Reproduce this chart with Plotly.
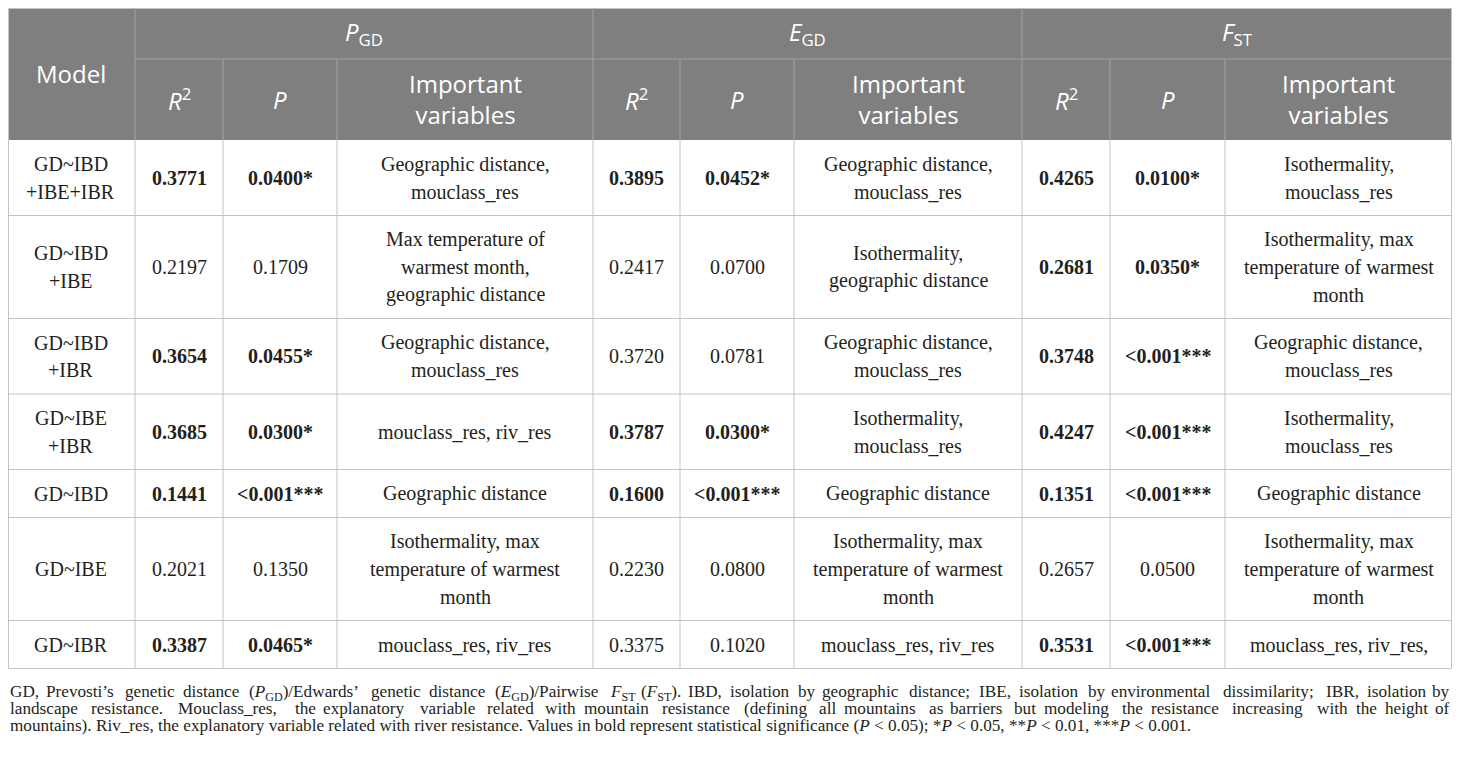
"""Mantel / MRM model table — P_GD, E_GD and F_ST fits per model, drawn as a Plotly figure."""

import re

import plotly.graph_objects as go

# ---- data --------------------------------------------------------------

MODELS = ["GD~IBD<br>+IBE+IBR", "GD~IBD<br>+IBE", "GD~IBD<br>+IBR", "GD~IBE<br>+IBR",
          "GD~IBD", "GD~IBE", "GD~IBR"]

PGD_R2 = ["0.3771", "0.2197", "0.3654", "0.3685", "0.1441", "0.2021", "0.3387"]
PGD_P = ["0.0400*", "0.1709", "0.0455*", "0.0300*", "<0.001***", "0.1350", "0.0465*"]
PGD_VARS = ["Geographic distance,<br>mouclass_res",
            "Max temperature of<br>warmest month,<br>geographic distance",
            "Geographic distance,<br>mouclass_res",
            "mouclass_res, riv_res",
            "Geographic distance",
            "Isothermality, max<br>temperature of warmest<br>month",
            "mouclass_res, riv_res"]
PGD_SIG = [True, False, True, True, True, False, True]

EGD_R2 = ["0.3895", "0.2417", "0.3720", "0.3787", "0.1600", "0.2230", "0.3375"]
EGD_P = ["0.0452*", "0.0700", "0.0781", "0.0300*", "<0.001***", "0.0800", "0.1020"]
EGD_VARS = ["Geographic distance,<br>mouclass_res",
            "Isothermality,<br>geographic distance",
            "Geographic distance,<br>mouclass_res",
            "Isothermality,<br>mouclass_res",
            "Geographic distance",
            "Isothermality, max<br>temperature of warmest<br>month",
            "mouclass_res, riv_res"]
EGD_SIG = [True, False, False, True, True, False, False]

FST_R2 = ["0.4265", "0.2681", "0.3748", "0.4247", "0.1351", "0.2657", "0.3531"]
FST_P = ["0.0100*", "0.0350*", "<0.001***", "<0.001***", "<0.001***", "0.0500", "<0.001***"]
FST_VARS = ["Isothermality,<br>mouclass_res",
            "Isothermality, max<br>temperature of warmest<br>month",
            "Geographic distance,<br>mouclass_res",
            "Isothermality,<br>mouclass_res",
            "Geographic distance",
            "Isothermality, max<br>temperature of warmest<br>month",
            "mouclass_res, riv_res,"]
FST_SIG = [True, True, True, True, True, False, True]

GROUPS = ["<i>P</i><sub>GD</sub>", "<i>E</i><sub>GD</sub>", "<i>F</i><sub>ST</sub>"]
SUBHEADERS = ["<i>R</i><sup>2</sup>", "<i>P</i>", "Important<br>variables"]

# footnote, one entry per printed line (first two are justified)
FOOTNOTE = [
    "GD, Prevosti\u2019s genetic distance (<i>P</i><sub>GD</sub>)/Edwards\u2019 genetic distance "
    "(<i>E</i><sub>GD</sub>)/Pairwise <i>F</i><sub>ST</sub> (<i>F</i><sub>ST</sub>). IBD, isolation by "
    "geographic distance; IBE, isolation by environmental dissimilarity; IBR, isolation by",
    "landscape resistance. Mouclass_res, the explanatory variable related with mountain resistance "
    "(defining all mountains as barriers but modeling the resistance increasing with the height of",
    "mountains). Riv_res, the explanatory variable related with river resistance. Values in bold "
    "represent statistical significance (<i>P</i> &lt; 0.05); *<i>P</i> &lt; 0.05, **<i>P</i> &lt; 0.01, "
    "***<i>P</i> &lt; 0.001.",
]
JUSTIFY = [True, True, False]

# ---- layout constants --------------------------------------------------
# the page body keeps an 8px margin, so the figure is shrunk by 16px and the
# axes are set so that data units equal window pixels

W, H = 1460, 758
PAGE_MARGIN = 8
COL_EDGES = [6, 135, 223, 337, 593, 680, 794, 1022, 1110, 1225, 1452]
HEAD_TOP, HEAD_MID, HEAD_BOT = 7, 59, 140
LINE_H = 27.5
ROW_PAD = 20.5
FOOT_SIZE = 17.2
FOOT_BASE = 696
FOOT_LEAD = 17.4

HEAD_BG = "#7f7f7f"
HEAD_LINE = "#a3a3a3"
GRID = "#c4c4c4"
INK = "#231f20"
SANS = "Open Sans"
SERIF = "Liberation Serif"

lo_x, hi_x = PAGE_MARGIN + 0.5, W - PAGE_MARGIN - 0.5
lo_y = PAGE_MARGIN + 0.5
clamp_x = lambda v: min(max(v, lo_x), hi_x)

fig = go.Figure()
shapes, notes = [], []


def add_text(x, y, text, size, family, color, xanchor="center", yanchor="middle"):
    notes.append(dict(x=x, y=y, text=text, xref="x", yref="y", showarrow=False,
                      xanchor=xanchor, yanchor=yanchor,
                      font=dict(family=family, size=size, color=color)))


def text_block(x, yc, text, size, family, color, spacing):
    lines = text.split("<br>")
    n = len(lines)
    for i, ln in enumerate(lines):
        add_text(x, yc + (i - (n - 1) / 2) * spacing, ln, size, family, color)


def line(x0, y0, x1, y1, color, width=1):
    shapes.append(dict(type="line", xref="x", yref="y",
                       x0=clamp_x(x0), y0=max(y0, lo_y), x1=clamp_x(x1), y1=max(y1, lo_y),
                       line=dict(color=color, width=width)))


# rough Times / Liberation Serif advance widths (em) for justifying the footnote
NARROW = dict.fromkeys("ijlt,.;:/'", 0.278)
NARROW.update({" ": 0.25, "f": 0.333, "r": 0.333, "(": 0.333, ")": 0.333, "\u2019": 0.333,
               "I": 0.333, "-": 0.333, "s": 0.389, "m": 0.778, "w": 0.722,
               "M": 0.889, "W": 0.944, "P": 0.556, "F": 0.556, "S": 0.556,
               "E": 0.611, "T": 0.611, "R": 0.667, "B": 0.667, "<": 0.564,
               "a": 0.444, "c": 0.444, "e": 0.444, "z": 0.444})


def est_width(word, size):
    total = 0.0
    for part in re.split(r"(<sub>.*?</sub>)", word):
        scale = 0.7 if part.startswith("<sub>") else 1.0
        plain = re.sub(r"<[^>]+>", "", part).replace("&lt;", "<")
        for ch in plain:
            if ch in NARROW:
                w = NARROW[ch]
            elif ch.isupper():
                w = 0.7
            else:
                w = 0.5
            total += w * scale
    return total * size


# header background
shapes.append(dict(type="rect", xref="x", yref="y", x0=clamp_x(COL_EDGES[0]),
                   x1=clamp_x(COL_EDGES[-1]), y0=max(HEAD_TOP, lo_y), y1=HEAD_BOT,
                   fillcolor=HEAD_BG, line=dict(width=0), layer="below"))

centers = [(COL_EDGES[i] + COL_EDGES[i + 1]) / 2 for i in range(len(COL_EDGES) - 1)]

add_text(centers[0], (HEAD_TOP + HEAD_BOT) / 2, "Model", 24, SANS, "white")
for g, name in enumerate(GROUPS):
    x0, x1 = COL_EDGES[1 + 3 * g], COL_EDGES[4 + 3 * g]
    add_text((x0 + x1) / 2, (HEAD_TOP + HEAD_MID) / 2, name, 24, SANS, "white")
    for k, sub in enumerate(SUBHEADERS):
        add_text(centers[1 + 3 * g + k], (HEAD_MID + HEAD_BOT) / 2 - 0.5, sub, 24, SANS, "white")

# header separators
line(COL_EDGES[0], HEAD_TOP, COL_EDGES[-1], HEAD_TOP, GRID)
line(COL_EDGES[1], HEAD_MID, COL_EDGES[-1], HEAD_MID, HEAD_LINE)
for g in range(3):
    line(COL_EDGES[1 + 3 * g], HEAD_TOP, COL_EDGES[1 + 3 * g], HEAD_BOT, HEAD_LINE)
    for k in (2, 3):
        line(COL_EDGES[k + 3 * g], HEAD_MID, COL_EDGES[k + 3 * g], HEAD_BOT, HEAD_LINE)

# body
columns = [(PGD_R2, PGD_P, PGD_VARS, PGD_SIG),
           (EGD_R2, EGD_P, EGD_VARS, EGD_SIG),
           (FST_R2, FST_P, FST_VARS, FST_SIG)]

y = HEAD_BOT
row_edges = [y]
for r, model in enumerate(MODELS):
    nlines = max(len(t.split("<br>")) for t in [model] + [c[2][r] for c in columns])
    h = ROW_PAD + LINE_H * nlines
    yc = y + h / 2
    text_block(centers[0], yc, model, 20, SERIF, INK, LINE_H)
    for g, (r2, p, var, sig) in enumerate(columns):
        b0, b1 = ("<b>", "</b>") if sig[r] else ("", "")
        text_block(centers[1 + 3 * g], yc, b0 + r2[r] + b1, 20, SERIF, INK, LINE_H)
        text_block(centers[2 + 3 * g], yc, b0 + p[r].replace("<", "&lt;") + b1, 20, SERIF, INK, LINE_H)
        text_block(centers[3 + 3 * g], yc, var[r], 20, SERIF, INK, LINE_H)
    y += h
    row_edges.append(y)

for ye in row_edges[1:]:
    line(COL_EDGES[0], ye, COL_EDGES[-1], ye, GRID)
for xe in COL_EDGES:
    line(xe, HEAD_BOT, xe, row_edges[-1], GRID)
line(COL_EDGES[0], HEAD_TOP, COL_EDGES[0], HEAD_BOT, GRID)
line(COL_EDGES[-1], HEAD_TOP, COL_EDGES[-1], HEAD_BOT, GRID)

# footnote: top-anchored so subscripts do not shift the baseline; justified
# lines place each word at its proportional share of the line width
fx0, fx1 = clamp_x(COL_EDGES[0]) - 0.5, clamp_x(COL_EDGES[-1]) + 0.5
space = est_width(" ", FOOT_SIZE)
for i, (txt, just) in enumerate(zip(FOOTNOTE, JUSTIFY)):
    ytop = FOOT_BASE + FOOT_LEAD * i - 0.95 * FOOT_SIZE
    if not just:
        add_text(fx0, ytop, txt, FOOT_SIZE, SERIF, INK, xanchor="left", yanchor="top")
        continue
    words = txt.split(" ")
    widths = [est_width(wd, FOOT_SIZE) for wd in words]
    total = sum(widths) + space * (len(words) - 1)
    stretch = (fx1 - fx0) / total
    cum = 0.0
    for j, (wd, wdt) in enumerate(zip(words, widths)):
        if j == len(words) - 1:
            add_text(fx1, ytop, wd, FOOT_SIZE, SERIF, INK, xanchor="right", yanchor="top")
        else:
            add_text(fx0 + stretch * cum, ytop, wd, FOOT_SIZE, SERIF, INK,
                     xanchor="left", yanchor="top")
        cum += wdt + space

fig.update_layout(
    width=W - 2 * PAGE_MARGIN, height=H - 2 * PAGE_MARGIN,
    margin=dict(l=0, r=0, t=0, b=0),
    paper_bgcolor="white", plot_bgcolor="white",
    xaxis=dict(range=[PAGE_MARGIN, W - PAGE_MARGIN], visible=False, fixedrange=True),
    yaxis=dict(range=[H - PAGE_MARGIN, PAGE_MARGIN], visible=False, fixedrange=True),
    shapes=shapes, annotations=notes, showlegend=False,
)

fig.write_html("out.html")
